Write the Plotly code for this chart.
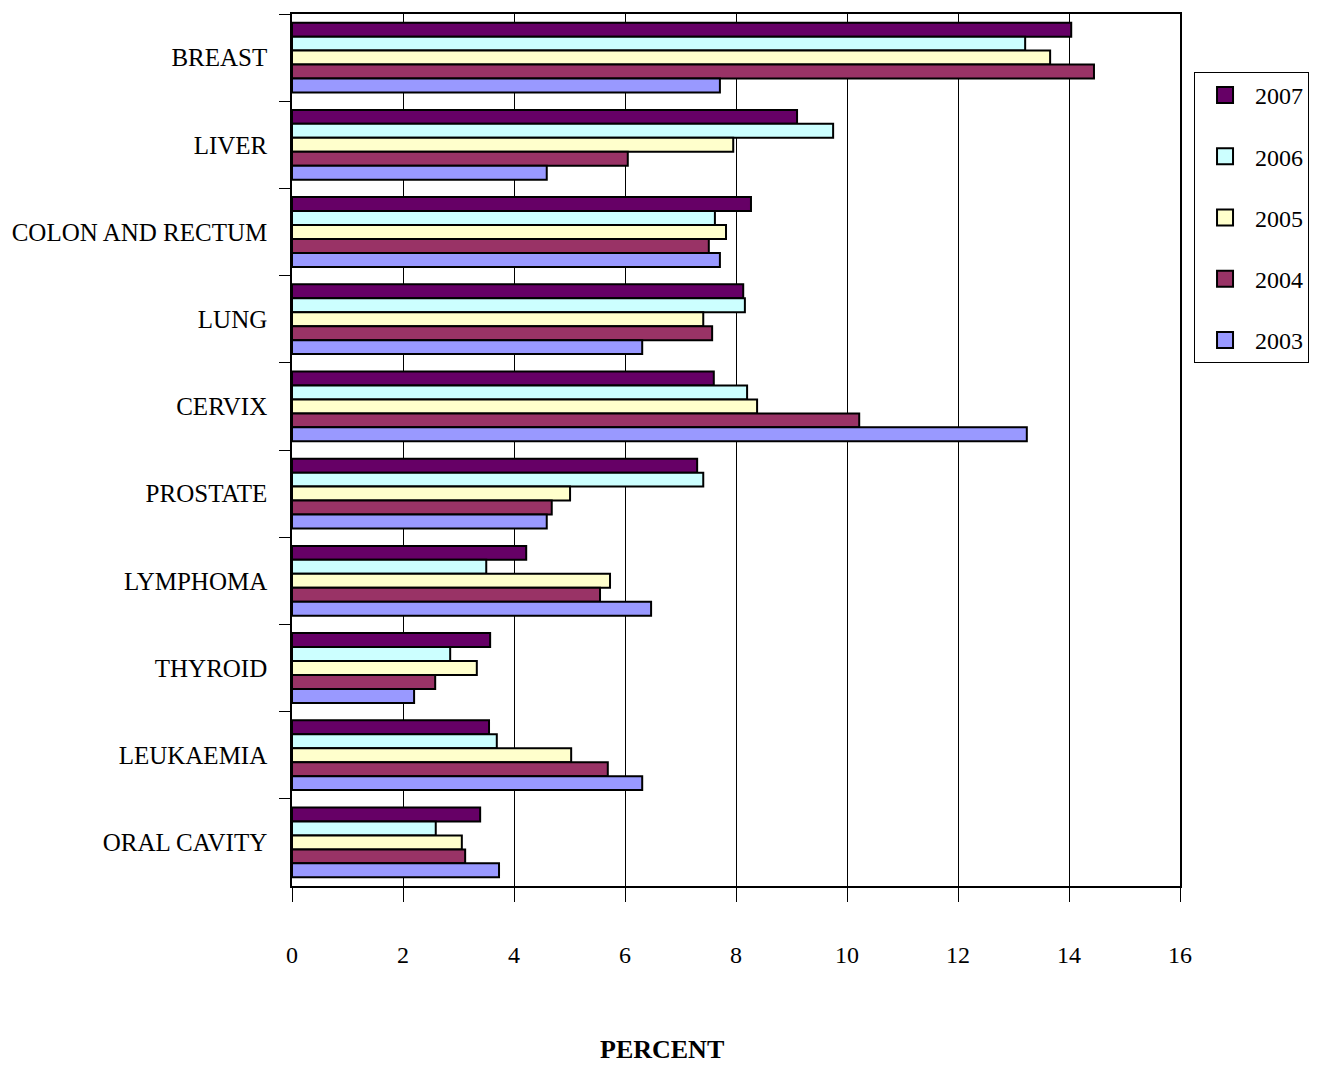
import plotly.graph_objects as go

categories = ["BREAST", "LIVER", "COLON AND RECTUM", "LUNG", "CERVIX",
              "PROSTATE", "LYMPHOMA", "THYROID", "LEUKAEMIA", "ORAL CAVITY"]

y2007 = [14.04, 9.10, 8.27, 8.13, 7.60, 7.30, 4.22, 3.57, 3.55, 3.39]
y2006 = [13.21, 9.75, 7.62, 8.16, 8.20, 7.41, 3.50, 2.85, 3.69, 2.59]
y2005 = [13.66, 7.95, 7.82, 7.41, 8.38, 5.01, 5.73, 3.33, 5.03, 3.06]
y2004 = [14.45, 6.05, 7.51, 7.57, 10.22, 4.68, 5.55, 2.58, 5.69, 3.12]
y2003 = [7.71, 4.59, 7.71, 6.31, 13.24, 4.59, 6.47, 2.20, 6.31, 3.73]

series = [("2007", y2007, "#660066"),
          ("2006", y2006, "#CCFFFF"),
          ("2005", y2005, "#FFFFCC"),
          ("2004", y2004, "#993366"),
          ("2003", y2003, "#9999FF")]

FONT = "Liberation Serif, Times New Roman, serif"

fig = go.Figure()
for name, vals, color in series:
    fig.add_trace(go.Bar(
        x=vals, y=categories, orientation="h", name=name,
        legendgroup=name, showlegend=False,
        marker=dict(color=color, line=dict(color="black", width=2)),
    ))
# legend entries (square swatches)
for name, vals, color in series:
    fig.add_trace(go.Scatter(
        x=[None], y=[None], mode="markers", name=name,
        legendgroup=name, showlegend=True, hoverinfo="skip",
        marker=dict(symbol="square", size=16, color=color,
                    line=dict(color="black", width=2)),
    ))

fig.update_layout(
    width=1322, height=1066,
    margin=dict(l=292, r=142, t=14, b=180),
    paper_bgcolor="white", plot_bgcolor="white",
    barmode="group", bargap=0.2, bargroupgap=0,
    font=dict(family=FONT, size=22, color="black"),
    showlegend=True,
    legend=dict(
        x=1.0158, y=0.9335, xanchor="left", yanchor="top",
        bordercolor="black", borderwidth=1,
        font=dict(family=FONT, size=24, color="black"),
        traceorder="grouped", tracegroupgap=27,
        itemwidth=50,
    ),
    xaxis=dict(
        range=[0, 16], dtick=2, tick0=0,
        showgrid=True, gridcolor="#000000", gridwidth=0.6,
        showline=True, linecolor="black", linewidth=1.5, mirror=True,
        ticks="outside", ticklen=14, tickcolor="black",
        ticklabelstandoff=32,
        tickfont=dict(family=FONT, size=24),
        zeroline=False, automargin=False,
    ),
    yaxis=dict(
        autorange="reversed",
        showline=True, linecolor="black", linewidth=1.5, mirror=True,
        ticks="outside", ticklen=11, tickcolor="black",
        tickson="boundaries",
        ticklabelstandoff=18,
        tickfont=dict(family=FONT, size=25),
        showgrid=False, automargin=False,
    ),
    annotations=[dict(
        text="<b>PERCENT</b>", xref="paper", yref="paper",
        x=(662 - 292) / 888, y=-(1049 - 886) / 872,
        xanchor="center", yanchor="middle", showarrow=False,
        borderpad=0,
        font=dict(family=FONT, size=26, color="black"),
    )],
)

fig.write_html(
    "out.html",
    config={"displayModeBar": False},
    post_script="document.body.style.margin='0';document.body.style.overflow='hidden';",
)
